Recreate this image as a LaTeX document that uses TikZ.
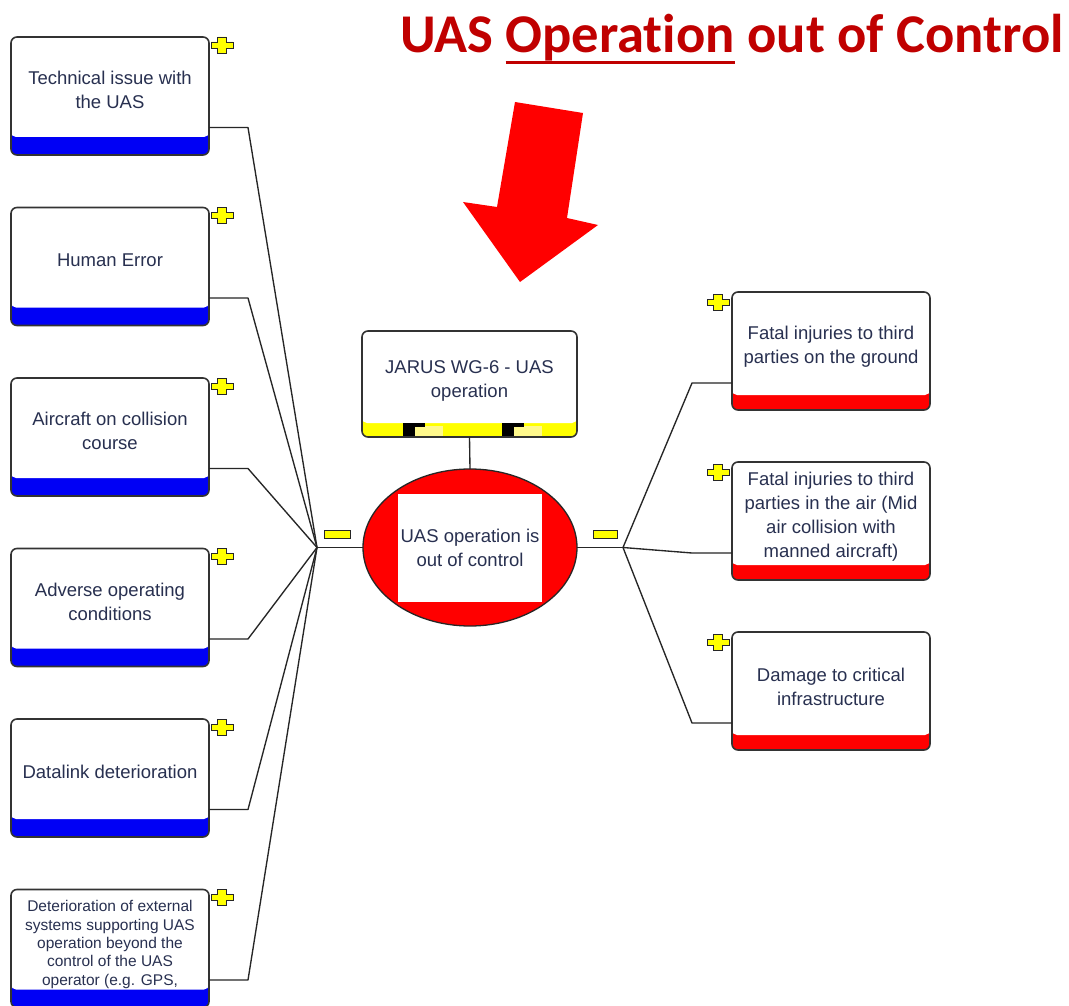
\documentclass[tikz,border=0pt]{standalone}
\usepackage{fontspec}
\setmainfont{Liberation Sans}
\newfontfamily\titlefont{Carlito}[Ligatures=NoCommon]
\usetikzlibrary{shapes.geometric,calc}

\definecolor{boxtext}{RGB}{40,48,80}
\definecolor{barblue}{RGB}{0,0,245}
\definecolor{barred}{RGB}{255,0,0}
\definecolor{baryellow}{RGB}{255,255,0}
\definecolor{titlered}{RGB}{192,0,0}

% underline drawn as a rule just below the descenders
\newlength\ulwidth
\newcommand\ulword[1]{\settowidth\ulwidth{#1}\rlap{\rule[-11pt]{\ulwidth}{3.2pt}}#1}

\begin{document}
\begin{tikzpicture}[x=1pt,y=-1pt,
  frame/.style={draw=black!80, line width=1.6pt, rounded corners=6pt,
    fill=white, inner sep=0pt, outer sep=0pt},
  boxbar/.style 2 args={path picture={
    \fill[#1, sharp corners] (path picture bounding box.south west) rectangle
      ($(path picture bounding box.south east)+(0,-#2-6)$);
    \fill[white, rounded corners=5pt] ($(path picture bounding box.south west)+(0,-#2)$)
      rectangle ($(path picture bounding box.north east)+(0,-8)$);}},
  cause/.style={frame, minimum width=198pt, minimum height=118pt, boxbar={barblue}{18}},
  effect/.style={frame, minimum width=198pt, minimum height=118pt, boxbar={barred}{15}},
  opbox/.style={frame, minimum width=215pt, minimum height=106pt, path picture={
    \coordinate (pp) at (path picture bounding box.south west);
    \fill[baryellow, sharp corners] (pp) rectangle ($(path picture bounding box.south east)+(0,-20)$);
    \fill[white, rounded corners=5pt] ($(pp)+(0,-14)$)
      rectangle ($(path picture bounding box.north east)+(0,-8)$);
    \foreach \tx in {41,140}{
      \fill[yellow!45!white, sharp corners] ($(pp)+(\tx+12,-11)$) rectangle ($(pp)+(\tx+40,0)$);
      \fill[black, sharp corners] ($(pp)+(\tx,-14)$) rectangle ($(pp)+(\tx+12,0)$);
      \fill[black, sharp corners] ($(pp)+(\tx,-14)$) rectangle ($(pp)+(\tx+22,-10.5)$);}}},
  lbl/.style={text=boxtext, align=center, inner sep=0pt,
    font=\fontsize{18.5}{24}\selectfont},
  smalllbl/.style={lbl, font=\fontsize{15.5}{18.3}\selectfont},
  conn/.style={draw=black!85, line width=1.35pt, line join=round},
  minusmark/.style={draw=black!85, line width=0.9pt, fill=baryellow,
    minimum width=26pt, minimum height=8pt, inner sep=0pt},
  pics/plusmark/.style={code={
    \filldraw[fill=baryellow, draw=black!85, line width=0.9pt]
      (-11,-3) -- (-4.5,-3) -- (-4.5,-8) -- (4.5,-8) -- (4.5,-3) -- (11,-3)
      -- (11,3) -- (4.5,3) -- (4.5,8) -- (-4.5,8) -- (-4.5,3) -- (-11,3) -- cycle;}}
]

\fill[white] (0,0) rectangle (1069,1006);
\useasboundingbox (0,0) rectangle (1069,1006);

% heading
\node[font=\titlefont\bfseries\fontsize{54.6}{60}\selectfont, text=titlered,
  anchor=base west, inner sep=0pt] (title) at (400,53)
  {UAS \ulword{Operation} out of Control};

% big pointer arrow
\fill[red] (515,102) -- (583,113) -- (567,218) -- (598,225) -- (520,282)
  -- (463,202) -- (497,207) -- cycle;

% causes
\node[cause] (L1) at (110,96) {};
\node[cause] (L2) at (110,266.5) {};
\node[cause] (L3) at (110,437) {};
\node[cause] (L4) at (110,607.5) {};
\node[cause] (L5) at (110,778) {};
\node[cause] (L6) at (110,948.5) {};
\node[lbl] (L1t) at ($(L1.center)+(0,-6)$) {Technical issue with\\the UAS};
\node[lbl] (L2t) at ($(L2.center)+(0,-6)$) {Human Error};
\node[lbl] (L3t) at ($(L3.center)+(0,-6)$) {Aircraft on collision\\course};
\node[lbl] (L4t) at ($(L4.center)+(0,-6)$) {Adverse operating\\conditions};
\node[lbl] (L5t) at ($(L5.center)+(0,-6)$) {Datalink deterioration};
\node[smalllbl] (L6t) at ($(L6.center)+(0,-4)$) {Deterioration of external\\systems supporting UAS\\operation beyond the\\control of the UAS\\operator (e.g. GPS,};

% consequences
\node[effect] (R1) at (831,351) {};
\node[effect] (R2) at (831,521) {};
\node[effect] (R3) at (831,691) {};
\node[lbl] (R1t) at ($(R1.center)+(0,-4.5)$) {Fatal injuries to third\\parties on the ground};
\node[lbl] (R2t) at ($(R2.center)+(0,-4.5)$) {Fatal injuries to third\\parties in the air (Mid\\air collision with\\manned aircraft)};
\node[lbl] (R3t) at ($(R3.center)+(0,-4.5)$) {Damage to critical\\infrastructure};

% operation and top event
\node[opbox] (op) at (469.5,384) {};
\node[lbl] (opt) at ($(op.center)+(0,-3.5)$) {JARUS WG-6 - UAS\\operation};
\node[ellipse, draw=black!85, line width=1.3pt, fill=red, minimum width=214pt,
  minimum height=157pt, inner sep=0pt, outer sep=0pt] (ev) at (470,547.5) {};
\node[lbl, fill=white, minimum width=144pt, minimum height=108pt] (evt) at (470,548)
  {UAS operation is\\out of control};

% connectors
\coordinate (jl) at (317,547.5);
\coordinate (jr) at (623,547.5);
\draw[conn] (op.south) -- (ev.north);
\draw[conn] (jl) -- (ev.west);
\draw[conn] (ev.east) -- (jr);
\foreach \i in {1,...,6}
  \draw[conn] ($(L\i.center)+(99,31.5)$) -- ++(39,0) -- (jl);
\foreach \i in {1,2,3}
  \draw[conn] (jr) -- ($(R\i.west)+(-40,32)$) -- ($(R\i.west)+(0,32)$);

% collapse / expand markers
\node[minusmark] (ml) at (337,534) {};
\node[minusmark, minimum width=24pt] (mr) at (605,534) {};
\foreach \i in {1,...,6}
  \pic at ($(L\i.north east)+(13,8)$) {plusmark};
\foreach \i in {1,2,3}
  \pic at ($(R\i.north west)+(-14,10)$) {plusmark};

\end{tikzpicture}
\end{document}
